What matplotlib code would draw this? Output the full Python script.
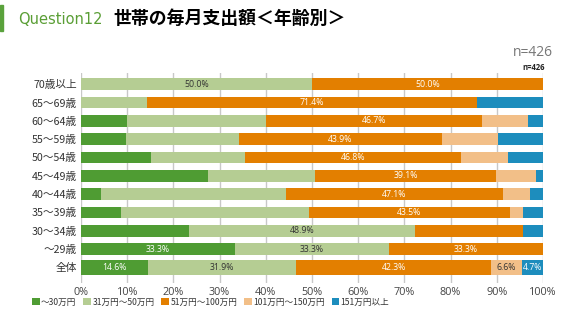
import matplotlib
matplotlib.use("Agg")
import matplotlib.pyplot as plt
from matplotlib.patches import Patch
import numpy as np

plt.rcParams['font.family'] = ['Noto Sans CJK JP', 'DejaVu Sans']

categories = ["70歳以上", "65～69歳", "60～64歳", "55～59歳", "50～54歳",
              "45～49歳", "40～44歳", "35～39歳", "30～34歳", "～29歳", "全体"]
series_names = ["～30万円", "31万円～50万円", "51万円～100万円", "101万円～150万円", "151万円以上"]
s1 = [0.0, 0.0, 10.0, 9.8, 15.2, 27.5, 4.3, 8.7, 23.4, 33.3, 14.6]
s2 = [50.0, 14.3, 30.0, 24.4, 20.3, 23.2, 40.0, 40.6, 48.9, 33.3, 31.9]
s3 = [50.0, 71.4, 46.7, 43.9, 46.8, 39.1, 47.1, 43.5, 23.4, 33.3, 42.3]
s4 = [0.0, 0.0, 10.0, 12.2, 10.1, 8.7, 5.7, 2.9, 0.0, 0.0, 6.6]
s5 = [0.0, 14.3, 3.3, 9.8, 7.6, 1.4, 2.9, 4.3, 4.3, 0.0, 4.7]
xticks = [0, 10, 20, 30, 40, 50, 60, 70, 80, 90, 100]
xtick_labels = ["0%", "10%", "20%", "30%", "40%", "50%", "60%", "70%", "80%", "90%", "100%"]

colors = ["#4F9C33", "#B5CD93", "#E37F00", "#F2BF88", "#1D8DBD"]
text_colors = ["white", "#333333", "white", "#333333", "white"]

fig = plt.figure(figsize=(5.7, 3.22), dpi=100)
ax = fig.add_axes([81/570, 1-283/322, 462/570, 210/322])

series = [s1, s2, s3, s4, s5]
y = np.arange(len(categories))
heights = [0.63]*(len(categories)-1) + [0.8]
left = np.zeros(len(categories))
for k, s in enumerate(series):
    vals = np.array(s)
    ax.barh(y, vals, left=left, height=heights, color=colors[k], zorder=3,
            linewidth=0)
    left += vals

# labels: largest segment per row, all segments for 全体
for i in range(len(categories)):
    vals = [s[i] for s in series]
    mx = max(vals)
    lft = 0
    for k, v in enumerate(vals):
        show = (i == len(categories)-1 and v > 0) or (v > 0 and abs(v - mx) < 0.05)
        if show:
            ax.text(lft + v/2, y[i], f"{v:.1f}%", ha='center', va='center',
                    fontsize=6.3, color=text_colors[k], family=['Open Sans', 'DejaVu Sans'], zorder=4)
        lft += v

ax.set_xlim(0, 100)
ax.set_ylim(10.85, -0.61)
ax.set_xticks(xticks)
ax.set_xticklabels(xtick_labels, family=['Open Sans', 'DejaVu Sans'])
ax.set_yticks(y)
ax.set_yticklabels(categories)
ax.tick_params(axis='y', length=0, labelsize=7.7, labelcolor='#333333', pad=3)
ax.tick_params(axis='x', length=0, labelsize=7.8, labelcolor='#444444', pad=3)
for sp in ax.spines.values():
    sp.set_visible(False)
ax.xaxis.grid(True, color='#C8C8C8', linewidth=1, zorder=0)
ax.set_axisbelow(True)

# title
fig.patches.append(plt.Rectangle((0, 1-31/322), 3/570, 26/322, transform=fig.transFigure,
                                 color='#5AA23C', figure=fig))
fig.text(18/570, 1-19/322, "Question12", fontsize=10.5, color='#5A9E35',
         family=['DejaVu Sans'], va='center', ha='left')
fig.text(113/570, 1-19/322, "世帯の毎月支出額＜年齢別＞", fontsize=12.9, fontweight='bold',
         color='black', va='center', ha='left')
fig.text(553/570, 1-53/322, "n=426", fontsize=10, color='#777777', ha='right', va='center',
         family=['Open Sans', 'DejaVu Sans'])
fig.text(545/570, 1-67/322, "n=426", fontsize=5.5, color='#222222', ha='right', va='center',
         fontweight='bold', family=['Open Sans', 'DejaVu Sans'])

handles = [Patch(facecolor=c, edgecolor='none') for c in colors]
fig.legend(handles, series_names, loc='center left', bbox_to_anchor=(32/570, 1-302/322),
           ncol=5, frameon=False, fontsize=6.2, handlelength=0.9, handleheight=0.9,
           handletextpad=0.15, columnspacing=0.8, borderaxespad=0, borderpad=0,
           labelcolor='#333333')

fig.savefig("out.png", dpi=100)
